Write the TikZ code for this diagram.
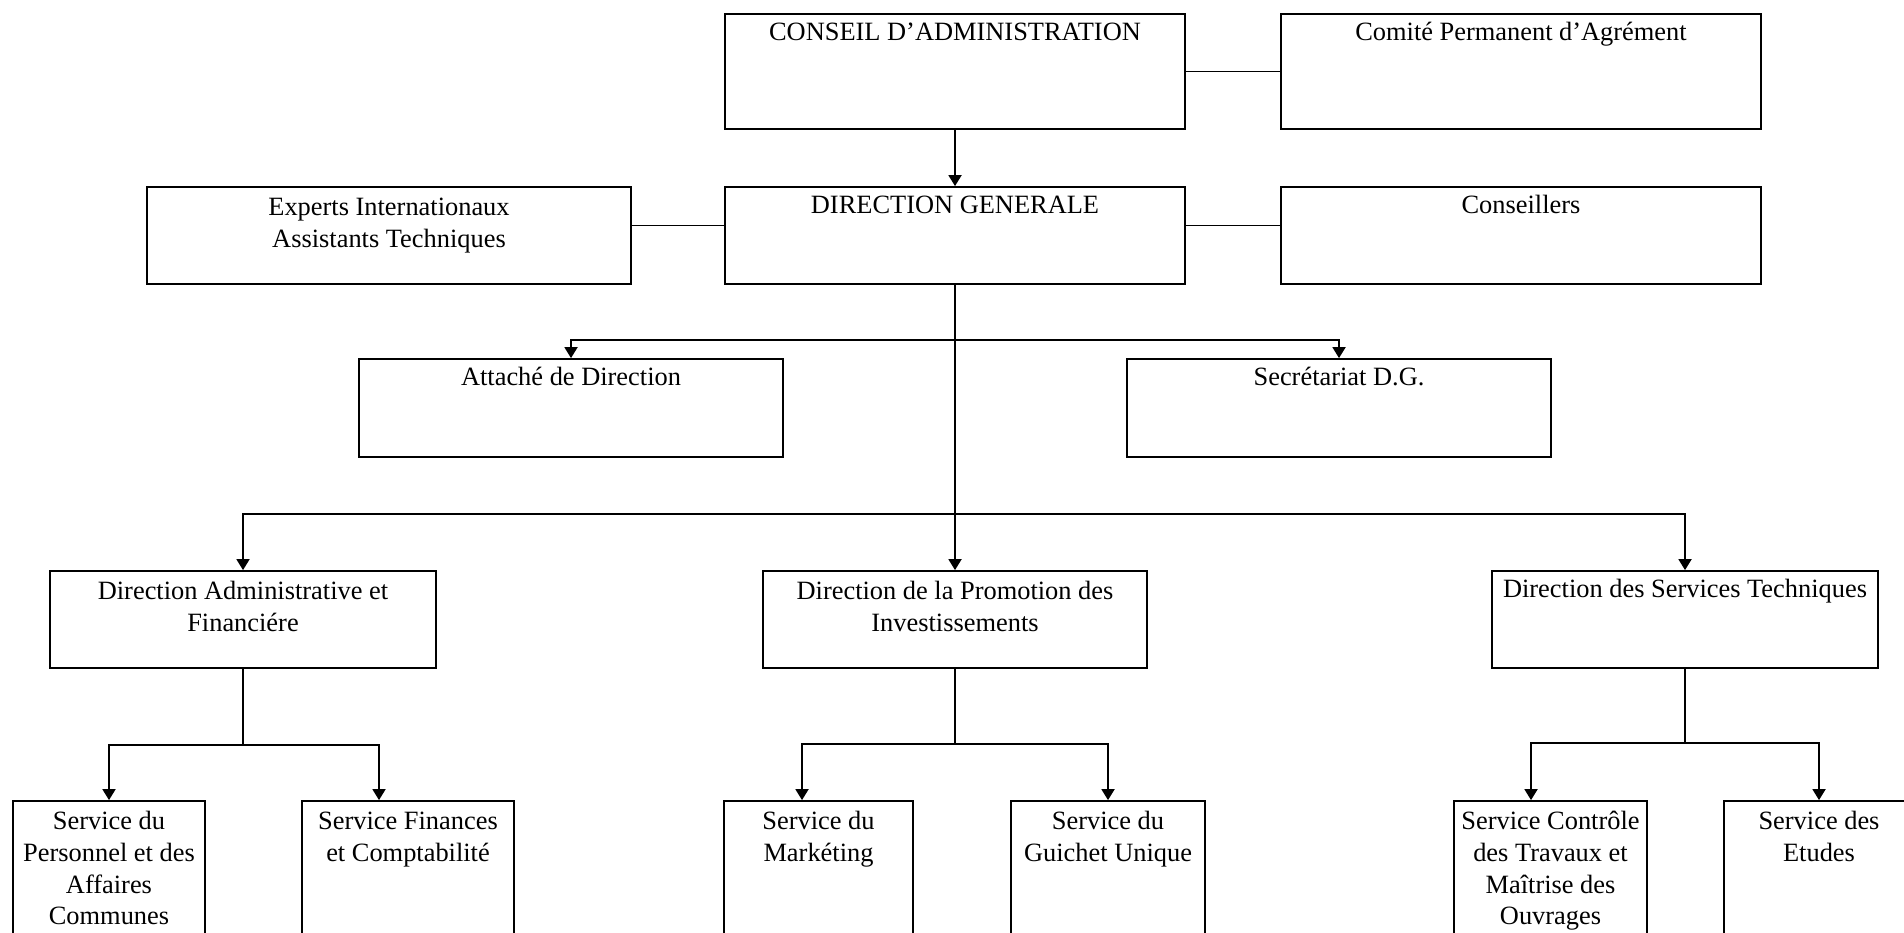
\documentclass[tikz,border=0pt]{standalone}
\usepackage{fontspec}
\setmainfont{Liberation Serif}
\usetikzlibrary{arrows.meta}
\tikzset{
  box/.style 2 args={draw, minimum width=#1, minimum height=#2, inner sep=0pt},
  txt/.style={anchor=north, align=center, inner sep=0pt, yshift=-2.2pt,
    font=\fontsize{13.2}{15.8}\selectfont},
  txtm/.style={txt, yshift=-1.2pt}
}
\begin{document}
\begin{tikzpicture}[x=0.5pt, y=-0.5pt, line width=0.9pt, >={Triangle[width=6.5pt,length=5.5pt]}]
  \useasboundingbox (0,0) rectangle (1904,932);
  \clip (0,0) rectangle (1904,932);
  \node[box={230pt}{57.5pt}, label={[txt]north:\strut CONSEIL D’ADMINISTRATION}] (cda) at (955,71.5) {};
  \node[box={240pt}{57.5pt}, label={[txt]north:\strut Comité Permanent d’Agrément}] (cpa) at (1521,71.5) {};
  \node[box={242pt}{48.5pt}, label={[txtm]north:{\strut Experts Internationaux\\Assistants Techniques}}] (eiat) at (389,235.5) {};
  \node[box={230pt}{48.5pt}, label={[txt]north:\strut DIRECTION GENERALE}] (dg) at (955,235.5) {};
  \node[box={240pt}{48.5pt}, label={[txt]north:\strut Conseillers}] (cons) at (1521,235.5) {};
  \node[box={212pt}{49pt}, label={[txt]north:\strut Attaché de Direction}] (adir) at (571,408) {};
  \node[box={212pt}{49pt}, label={[txt]north:\strut Secrétariat D.G.}] (sdg) at (1339,408) {};
  \node[box={193pt}{48.5pt}, label={[txtm]north:{\strut Direction Administrative et\\Financiére}}] (daf) at (243,619.5) {};
  \node[box={192pt}{48.5pt}, label={[txtm]north:{\strut Direction de la Promotion des\\Investissements}}] (dpi) at (955,619.5) {};
  \node[box={193pt}{48.5pt}, label={[txt]north:\strut Direction des Services Techniques}] (dst) at (1685,619.5) {};
  \node[box={96pt}{100pt}, label={[txtm]north:{\strut Service du\\Personnel et des\\Affaires\\Communes}}] (spac) at (109,901) {};
  \node[box={106pt}{100pt}, label={[txtm]north:{\strut Service Finances\\et Comptabilité}}] (sfc) at (408,901) {};
  \node[box={94.5pt}{100pt}, label={[txtm]north:{\strut Service du\\Markéting}}] (smk) at (818.5,901) {};
  \node[box={97pt}{100pt}, label={[txtm]north:{\strut Service du\\Guichet Unique}}] (sgu) at (1108,901) {};
  \node[box={96.5pt}{100pt}, label={[txtm]north:{\strut Service Contrôle\\des Travaux et\\Maîtrise des\\Ouvrages}}] (sctm) at (1550.5,901) {};
  \node[box={95pt}{100pt}, label={[txtm]north:{\strut Service des\\Etudes}}] (sde) at (1819,901) {};
  \draw[->] (cda) -- (dg);
  \draw (cda) -- (cpa);
  \draw ([yshift=5pt]eiat.east) -- ([yshift=5pt]dg.west);
  \draw ([yshift=5pt]dg.east) -- ([yshift=5pt]cons.west);
  \draw[->] (dg.south) -- (dpi.north);
  \coordinate (j1) at (955,340);
  \coordinate (j2) at (955,514);
  \draw[->] (j1) -| (adir.north);
  \draw[->] (j1) -| (sdg.north);
  \draw[->] (j2) -| (daf.north);
  \draw[->] (j2) -| (dst.north);
  \coordinate (b1) at ([yshift=-38pt]daf.south);
  \coordinate (b2) at ([yshift=-37.5pt]dpi.south);
  \coordinate (b3) at ([yshift=-37pt]dst.south);
  \draw (daf.south) -- (b1);
  \draw[->] (b1) -| (spac.north);
  \draw[->] (b1) -| ([xshift=-14.5pt]sfc.north);
  \draw (dpi.south) -- (b2);
  \draw[->] (b2) -| ([xshift=-8.25pt]smk.north);
  \draw[->] (b2) -| (sgu.north);
  \draw (dst.south) -- (b3);
  \draw[->] (b3) -| ([xshift=-9.75pt]sctm.north);
  \draw[->] (b3) -| (sde.north);
\end{tikzpicture}
\end{document}
